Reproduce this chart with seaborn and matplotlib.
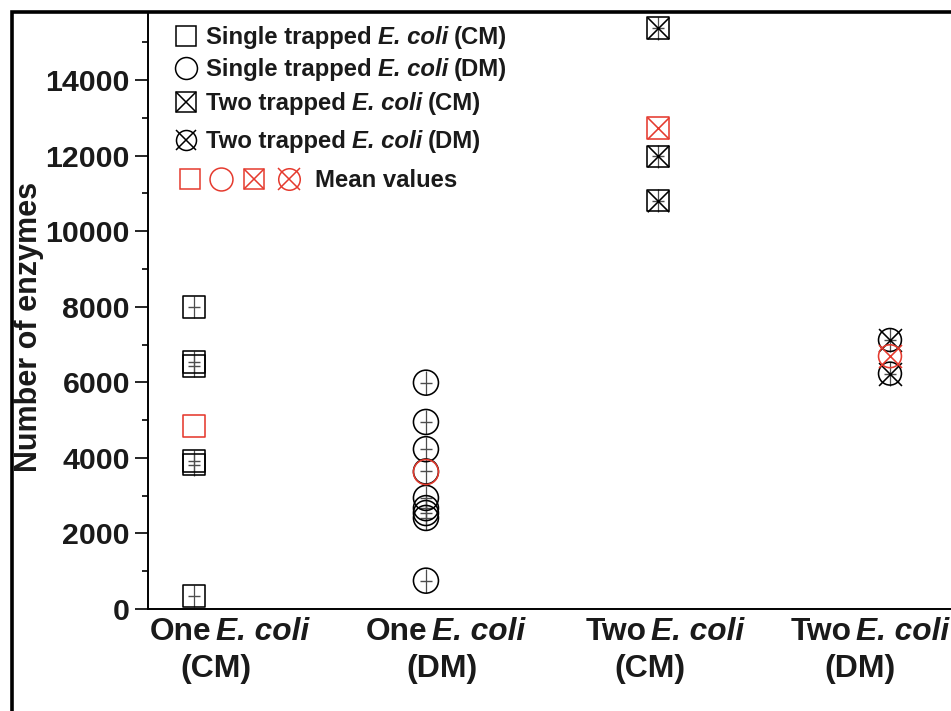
import numpy as np
import pandas as pd
import matplotlib
matplotlib.use("Agg")
import matplotlib.pyplot as plt
from matplotlib.lines import Line2D
from matplotlib.ticker import MultipleLocator
import seaborn as sns

# ---------------- data ----------------
categories = ["One E. coli (CM)", "One E. coli (DM)", "Two E. coli (CM)", "Two E. coli (DM)"]
cat_count = ["One", "One", "Two", "Two"]
cat_medium = ["(CM)", "(DM)", "(CM)", "(DM)"]
species = "E. coli"

single_cm = [7990, 6540, 6430, 3910, 3820, 340]
single_dm = [5990, 4950, 4230, 3640, 2940, 2670, 2540, 2410, 750]
two_cm = [15370, 11980, 10810]
two_dm = [7120, 6230]
mean_values = [4850, 3625, 12740, 6690]

single_cm_err = [290, 290, 290, 290, 290, 290]
single_dm_err = [320, 320, 320, 320, 320, 320, 320, 320, 320]
two_cm_err = [300, 300, 300]
two_dm_err = [320, 320]

ytick_values = [0, 2000, 4000, 6000, 8000, 10000, 12000, 14000]

legend_prefix = ["Single trapped", "Single trapped", "Two trapped", "Two trapped"]
legend_suffix = ["(CM)", "(DM)", "(CM)", "(DM)"]
mean_label = "Mean values"

RED = "#e53a2e"
TXT = "#1a1a1a"

# ---------------- style ----------------
sns.set_theme(style="ticks")
plt.rcParams["font.family"] = ["Liberation Sans", "DejaVu Sans"]
plt.rcParams["font.weight"] = "bold"

W, H = 951, 711
fig = plt.figure(figsize=(W / 100, H / 100), dpi=100)
fig.patch.set_facecolor("white")
ax_l, ax_t, ax_b = 148, 12, 609
ax = fig.add_axes([ax_l / W, (H - ax_b) / H, (W - ax_l) / W, (ax_b - ax_t) / H])
ax.set_facecolor("white")


def frame(vals, idx):
    return pd.DataFrame({"x": np.full(len(vals), idx, dtype=float), "y": vals})


groups = [(single_cm, single_cm_err, 0), (single_dm, single_dm_err, 1),
          (two_cm, two_cm_err, 2), (two_dm, two_dm_err, 3)]

# error bars (thin grey vertical lines with centre tick)
for vals, errs, idx in groups:
    d = frame(vals, idx)
    ax.errorbar(d["x"], d["y"], yerr=errs, fmt="_", ms=8.5, mew=1.0,
                color="0.3", ecolor="0.3", elinewidth=0.9, capsize=0, zorder=2)

lw = 1.15
sns.scatterplot(data=frame(single_cm, 0), x="x", y="y", marker="s", s=15.5**2,
                facecolors="none", edgecolor="black", linewidth=lw, ax=ax, zorder=3, legend=False)
sns.scatterplot(data=frame(single_dm, 1), x="x", y="y", marker="o", s=18**2,
                facecolors="none", edgecolor="black", linewidth=lw, ax=ax, zorder=3, legend=False)
sns.scatterplot(data=frame(two_cm, 2), x="x", y="y", marker="s", s=15.5**2,
                facecolors="none", edgecolor="black", linewidth=lw, ax=ax, zorder=3, legend=False)
sns.scatterplot(data=frame(two_cm, 2), x="x", y="y", marker="x", s=15.5**2,
                color="black", linewidth=lw, ax=ax, zorder=3, legend=False)
sns.scatterplot(data=frame(two_dm, 3), x="x", y="y", marker="o", s=16.5**2,
                facecolors="none", edgecolor="black", linewidth=lw, ax=ax, zorder=3, legend=False)
sns.scatterplot(data=frame(two_dm, 3), x="x", y="y", marker="x", s=16.5**2,
                color="black", linewidth=lw, ax=ax, zorder=3, legend=False)

# mean values (red)
mean_df = pd.DataFrame({"x": np.arange(len(mean_values), dtype=float), "y": mean_values})
sns.scatterplot(data=mean_df.iloc[[0]], x="x", y="y", marker="s", s=15.5**2,
                facecolors="white", edgecolor=RED, linewidth=lw, ax=ax, zorder=4, legend=False)
sns.scatterplot(data=mean_df.iloc[[1]], x="x", y="y", marker="o", s=18**2,
                facecolors="none", edgecolor=RED, linewidth=lw, ax=ax, zorder=4, legend=False)
sns.scatterplot(data=mean_df.iloc[[2]], x="x", y="y", marker="s", s=15.5**2,
                facecolors="white", edgecolor=RED, linewidth=lw, ax=ax, zorder=4, legend=False)
sns.scatterplot(data=mean_df.iloc[[2]], x="x", y="y", marker="x", s=15.5**2,
                color=RED, linewidth=lw, ax=ax, zorder=4, legend=False)
sns.scatterplot(data=mean_df.iloc[[3]], x="x", y="y", marker="o", s=16.5**2,
                facecolors="none", edgecolor=RED, linewidth=lw, ax=ax, zorder=4, legend=False)
sns.scatterplot(data=mean_df.iloc[[3]], x="x", y="y", marker="x", s=16.5**2,
                color=RED, linewidth=lw, ax=ax, zorder=4, legend=False)

# ---------------- axes ----------------
ax.set_xlim(-0.198, 3.263)
ax.set_ylim(0, 15800)
ax.set_xlabel("")
ax.set_ylabel("")
ax.set_yticks(ytick_values)
ax.set_yticklabels([str(v) for v in ytick_values], fontsize=21.8, fontweight="bold")
ax.yaxis.set_minor_locator(MultipleLocator(1000))
ax.tick_params(axis="y", which="major", direction="out", length=9.5, width=1.2,
               pad=3.5, color="black", labelcolor=TXT)
ax.tick_params(axis="y", which="minor", direction="out", length=4.5, width=1.2, color="black")
ax.set_xticks(range(len(categories)))
ax.set_xticklabels([])
ax.tick_params(axis="x", length=0)
for s in ["top", "right"]:
    ax.spines[s].set_visible(False)
for s in ["left", "bottom"]:
    ax.spines[s].set_linewidth(1.4)
    ax.spines[s].set_color("black")

renderer = fig.canvas.get_renderer()


def rich(x_px, base_px, segs, size, align="left"):
    """segs: list of (text, italic, gap_after_px). Places texts on one baseline."""
    arts = []
    widths = []
    for txt, ital, gap in segs:
        t = fig.text(0, 0, txt, fontsize=size, fontweight="bold",
                     fontstyle="italic" if ital else "normal",
                     ha="left", va="baseline", color=TXT)
        widths.append(t.get_window_extent(renderer).width)
        arts.append(t)
    total = sum(widths) + sum(g for _, _, g in segs[:-1])
    x = x_px - total / 2 if align == "center" else x_px
    for t, w, (_, _, gap) in zip(arts, widths, segs):
        t.set_position((x / W, 1 - base_px / H))
        x += w + gap


# x category labels (two lines, individually positioned)
line1_center = [229.5, 445, 664.5, 870]
line2_center = [216, 442, 650, 860]
for i in range(len(categories)):
    rich(line1_center[i], 640, [(cat_count[i], False, 4.5), (species, True, 0)], 22.8, "center")
    rich(line2_center[i], 677, [(cat_medium[i], False, 0)], 23, "center")

# y label
fig.text(29 / W, 1 - 327 / H, "Number of enzymes", rotation=90, ha="center", va="center",
         fontsize=22, fontweight="bold", color=TXT)


# ---------------- legend (manual) ----------------
def glyph(px, py, marker, ms, color):
    ax.plot([(px - ax_l) / (W - ax_l)], [(ax_b - py) / (ax_b - ax_t)], transform=ax.transAxes,
            marker=marker, ms=ms, mfc="none", mec=color, mew=1.1, color=color,
            ls="none", clip_on=False, zorder=5)


glyph(186, 36, "s", 14.4, "black")
glyph(186, 68, "o", 15.8, "black")
glyph(186, 102, "s", 13.7, "black")
glyph(186, 102, "x", 13.7, "black")
glyph(186, 140, "o", 14.4, "black")
glyph(186, 140, "x", 14.4, "black")
glyph(190, 179, "s", 15.0, RED)
glyph(221, 179, "o", 16.5, RED)
glyph(254, 179, "s", 15.0, RED)
glyph(254, 179, "x", 15.0, RED)
glyph(289, 179, "o", 15.5, RED)
glyph(289, 179, "x", 15.5, RED)

legend_baselines = [44, 76, 110, 148]
for pre, suf, by in zip(legend_prefix, legend_suffix, legend_baselines):
    rich(206, by, [(pre, False, 6), (species, True, 6), (suf, False, 0)], 17.2)
rich(315, 187, [(mean_label, False, 0)], 17.2)

# outer frame (left and top edges)
fx, fy = 11.5 / W, 1 - 11.5 / H
fig.add_artist(Line2D([fx, fx, 1.0], [0.0, fy, fy], transform=fig.transFigure,
                      color="black", lw=2.6, solid_joinstyle="miter"))

fig.savefig("out.png", dpi=100, facecolor="white")
